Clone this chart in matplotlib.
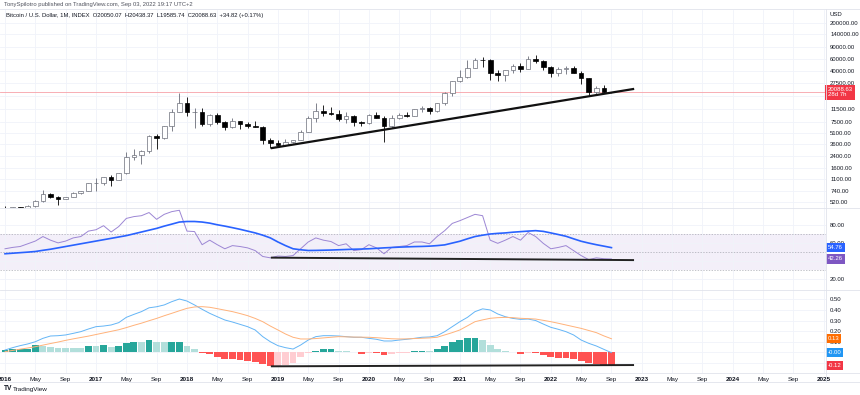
import numpy as np
import matplotlib
matplotlib.use('Agg')
import matplotlib.pyplot as plt
from matplotlib.lines import Line2D

plt.rcParams['font.family'] = ['Liberation Sans', 'DejaVu Sans']

# monthly BTC candles, Jan 2016 .. Sep 2022
opens = [430, 370, 437, 416, 448, 531, 673, 624, 575, 609, 700, 745,
         965, 970, 1190, 1080, 1350, 2300, 2480, 2875, 4700, 4340, 6450, 10200,
         13900, 10200, 10300, 6900, 9240, 7490, 6390, 7730, 7020, 6610, 6300, 4020,
         3740, 3450, 3820, 4100, 5320, 8560, 10800, 10090, 9600, 8300, 9150, 7550,
         7200, 9350, 8540, 6420, 8630, 9450, 9140, 11350, 11650, 10780, 13800, 19700,
         29000, 33100, 45200, 58800, 57700, 37300, 35000, 41500, 47100, 43800, 61300, 57000,
         46300, 38500, 43200, 45500, 37700, 31800, 19900, 23300, 20050.07]
highs = [460, 440, 440, 467, 550, 780, 705, 627, 615, 720, 753, 980,
         1155, 1200, 1290, 1350, 2760, 2980, 2920, 4750, 4980, 6470, 11500, 19800,
         17200, 11800, 11700, 9750, 9990, 7750, 8480, 7770, 7400, 7680, 6550, 4390,
         4110, 4200, 4100, 5620, 9100, 13900, 13200, 12330, 10930, 10370, 9510, 7750,
         9580, 10500, 9190, 9460, 10070, 10380, 11440, 12470, 12080, 14100, 19900, 29300,
         41900, 58300, 61800, 64900, 59500, 41300, 42400, 50500, 52900, 67000, 69000, 59100,
         47900, 45800, 48200, 47400, 40000, 31900, 24600, 25200, 20438.37]
lows = [350, 365, 400, 413, 435, 525, 600, 470, 570, 605, 685, 740,
        750, 930, 890, 1075, 1330, 2120, 1840, 2670, 2980, 4160, 5500, 10400,
        9050, 6000, 6600, 6450, 7050, 5780, 6070, 5880, 6140, 6200, 3560, 3130,
        3400, 3380, 3670, 4050, 5330, 7480, 9080, 9330, 7700, 7300, 6530, 6430,
        6850, 8450, 3850, 6150, 8120, 8900, 8970, 10520, 9850, 10400, 13200, 17600,
        28100, 32300, 45000, 47000, 30000, 28800, 29300, 37400, 39600, 43300, 53300, 42000,
        32900, 34300, 37200, 37700, 26700, 17600, 18800, 19600, 19585.74]
closes = [370, 437, 416, 448, 531, 673, 624, 575, 609, 700, 745, 965,
          970, 1190, 1080, 1350, 2300, 2480, 2875, 4700, 4340, 6450, 10200, 13900,
          10200, 10300, 6900, 9240, 7490, 6390, 7730, 7020, 6610, 6300, 4020, 3740,
          3450, 3820, 4100, 5320, 8560, 10800, 10090, 9600, 8300, 9150, 7550, 7200,
          9350, 8540, 6420, 8630, 9450, 9140, 11350, 11650, 10780, 13800, 19700, 29000,
          33100, 45200, 58800, 57700, 37300, 35000, 41500, 47100, 43800, 61300, 57000, 46300,
          38500, 43200, 45500, 37700, 31800, 19900, 23300, 20050, 20088.63]

rsi = [53.5, 55, 56, 59, 62, 67, 63, 60, 62, 65.5, 67, 73,
       74.5, 79, 72, 78, 87, 89, 90, 93.5, 86, 91.5, 94.5, 96,
       73, 72.5, 58, 63, 58, 53.5, 57, 56, 54.5, 51.5, 45, 43.5,
       45.5, 45, 46, 53.5, 61, 65.5, 63, 61.5, 57, 59, 51.5, 52.5,
       58, 54.5, 48, 55, 56, 57, 61, 61, 59, 67, 73.5, 81.5,
       84.5, 88, 91.5, 90, 63, 59.5, 63, 67, 63, 71.5, 67, 59.5,
       53.5, 55, 57, 51.5, 46, 41.5, 43.5, 42.5, 42.26]
rsi_ma = [48.0, 48.6, 49.2, 49.8, 50.5, 51.8, 53.0, 54.5, 56.0, 57.5, 59.0, 60.5,
          62.0, 63.5, 65.0, 66.5, 68.0, 70.0, 72.0, 74.0, 76.0, 78.5, 80.7, 83.0,
          83.6, 83.6, 83.0, 81.8, 80.0, 78.5, 76.8, 75.0, 73.0, 71.0, 68.5, 65.5,
          61.0, 57.0, 53.5, 52.4, 51.6, 51.7, 51.9, 52.1, 52.4, 52.7, 53.0, 53.2,
          53.5, 54.0, 54.5, 54.9, 55.3, 55.6, 55.9, 56.1, 56.4, 57.0, 57.8, 59.8,
          61.8, 64.5, 67.0, 68.5, 69.8, 70.5, 71.0, 71.8, 72.4, 73.0, 73.5, 72.7,
          71.0, 69.2, 67.3, 64.5, 61.8, 59.8, 58.0, 56.4, 54.76]

macd = [0.022, 0.044, 0.063, 0.079, 0.100, 0.132, 0.154, 0.157, 0.164, 0.179, 0.195, 0.220,
        0.242, 0.248, 0.258, 0.280, 0.330, 0.358, 0.384, 0.420, 0.430, 0.447, 0.478, 0.503,
        0.484, 0.447, 0.406, 0.368, 0.336, 0.305, 0.286, 0.264, 0.242, 0.211, 0.148, 0.100,
        0.063, 0.044, 0.031, 0.069, 0.116, 0.148, 0.157, 0.157, 0.154, 0.148, 0.142, 0.142,
        0.132, 0.123, 0.107, 0.107, 0.116, 0.123, 0.132, 0.142, 0.145, 0.157, 0.195, 0.242,
        0.289, 0.330, 0.384, 0.410, 0.400, 0.362, 0.336, 0.320, 0.311, 0.314, 0.300, 0.267,
        0.236, 0.217, 0.195, 0.164, 0.116, 0.085, 0.060, 0.028, -0.003]
signal = [0.006, 0.018, 0.030, 0.041, 0.053, 0.068, 0.083, 0.097, 0.113, 0.127, 0.140, 0.153,
          0.168, 0.183, 0.198, 0.213, 0.233, 0.255, 0.275, 0.298, 0.320, 0.345, 0.368, 0.392,
          0.415, 0.428, 0.431, 0.425, 0.412, 0.398, 0.384, 0.366, 0.346, 0.320, 0.289, 0.248,
          0.211, 0.173, 0.142, 0.126, 0.126, 0.130, 0.136, 0.142, 0.148, 0.146, 0.144, 0.143,
          0.142, 0.138, 0.133, 0.128, 0.126, 0.127, 0.130, 0.133, 0.136, 0.142, 0.164, 0.186,
          0.211, 0.250, 0.289, 0.306, 0.321, 0.327, 0.330, 0.327, 0.321, 0.318, 0.314, 0.302,
          0.289, 0.274, 0.258, 0.242, 0.226, 0.206, 0.186, 0.155, 0.128]
hist = [0.022, 0.028, 0.030, 0.035, 0.065, 0.060, 0.050, 0.045, 0.045, 0.044, 0.042, 0.060,
        0.058, 0.068, 0.050, 0.060, 0.092, 0.095, 0.093, 0.115, 0.095, 0.094, 0.100, 0.102,
        0.062, 0.030, -0.004, -0.017, -0.047, -0.063, -0.066, -0.072, -0.085, -0.088, -0.110, -0.126,
        -0.125, -0.124, -0.104, -0.040, -0.010, 0.016, 0.031, 0.033, 0.015, 0.008, 0.001, -0.015,
        -0.005, -0.010, -0.025, -0.015, -0.010, -0.005, 0.008, 0.012, 0.010, 0.028, 0.060, 0.100,
        0.116, 0.132, 0.138, 0.116, 0.069, 0.028, 0.013, 0.006, -0.016, -0.003, -0.010, -0.025,
        -0.041, -0.050, -0.057, -0.063, -0.079, -0.104, -0.110, -0.118, -0.122]

# hand drawn trend lines (month index, value)
trend_x = [35.2, 82.85]
price_trend = [3125, 22230]
rsi_trend = [43.7, 41.0]
macd_trend = [-0.132, -0.12]

price_ticks = [520, 740, 1100, 1600, 2400, 3600, 5100, 7500, 11500, 17500,
               27500, 40000, 60000, 90000, 140000, 200000]
rsi_ticks = [20, 40, 60, 80]
macd_ticks = [-0.1, 0.0, 0.1, 0.2, 0.3, 0.4, 0.5]
tick_months = list(range(0, 109, 4))
month_names = {0: None, 4: 'May', 8: 'Sep'}

last_price = 20088.63
n = len(closes)
xs = np.arange(n)

W, H = 860, 395
fig = plt.figure(figsize=(W / 100, H / 100), dpi=100)
fig.patch.set_facecolor('white')

def box(top, bottom):
    return [0, 1 - bottom / H, 826 / W, (bottom - top) / H]

ax1 = fig.add_axes(box(10, 208))
ax2 = fig.add_axes(box(208, 290), sharex=ax1)
ax3 = fig.add_axes(box(290, 373), sharex=ax1)

txt = '#131722'
grid_c = '#f0f3fa'
fs = 4.3

for ax in (ax1, ax2, ax3):
    for s in ax.spines.values():
        s.set_visible(False)
    ax.yaxis.tick_right()
    ax.tick_params(axis='y', length=0, labelsize=fs, labelcolor=txt, pad=3)
    ax.tick_params(axis='x', length=0)
    ax.set_xticks(tick_months)
    ax.grid(True, color=grid_c, lw=0.6)
    ax.set_axisbelow(True)
ax1.set_xlim(-0.66, 108.3)

# ---- price panel
ax1.set_yscale('log')
ax1.set_ylim(426, 308000)
ax1.set_yticks(price_ticks)
ax1.set_yticklabels(['%.2f' % v for v in price_ticks])
ax1.minorticks_off()
ax1.tick_params(axis='x', labelbottom=False)
ax1.axhline(last_price, color='#f7a1a8', lw=0.6, zorder=1)

for i in range(n):
    o, hi, lo, c = opens[i], highs[i], lows[i], closes[i]
    up = c >= o
    col = '#6a6d78' if up else '#000000'
    ax1.vlines(xs[i], lo, hi, color=col, lw=0.6, zorder=2)
    b0, b1 = min(o, c), max(o, c)
    if b1 / b0 < 1.012:
        b1 = b0 * 1.012
    ax1.bar(xs[i], b1 - b0, bottom=b0, width=0.62,
            color='white' if up else 'black', edgecolor=col, lw=0.5, zorder=3)

ax1.plot(trend_x, price_trend, color='#111111', lw=1.6, zorder=4)

ax1.text(1.004, 1 - 4 / 198, 'USD', transform=ax1.transAxes, fontsize=fs,
         color=txt, ha='left', va='center')
ax1.text(1.002, last_price, '20088.63\n28d 7h', transform=ax1.get_yaxis_transform(),
         fontsize=fs, color='white', ha='left', va='center', linespacing=1.1,
         bbox=dict(boxstyle='square,pad=0.4', fc='#f23645', ec='none'), zorder=10)

# ---- RSI panel
ax2.set_ylim(8, 98.5)
ax2.set_yticks(rsi_ticks)
ax2.set_yticklabels(['%.2f' % v for v in rsi_ticks])
ax2.tick_params(axis='x', labelbottom=False)
ax2.axhspan(30, 70, color='#7e57c2', alpha=0.09, lw=0, zorder=0)
for lvl in (30, 50, 70):
    ax2.axhline(lvl, color='#9598a1', lw=0.5, ls=(0, (2, 2)), alpha=0.8, zorder=1)
ax2.plot(xs, rsi, color='#9c86d4', lw=0.7, zorder=3)
ax2.plot(xs, rsi_ma, color='#2962ff', lw=1.2, zorder=3)
ax2.plot(trend_x, rsi_trend, color='#222222', lw=1.4, zorder=4)
for val, col in ((rsi_ma[-1], '#2962ff'), (rsi[-1], '#7e57c2')):
    ax2.text(1.002, val, '%.2f' % val, transform=ax2.get_yaxis_transform(),
             fontsize=fs, color='white', ha='left', va='center',
             bbox=dict(boxstyle='square,pad=0.35', fc=col, ec='none'), zorder=10)

# ---- MACD panel
ax3.set_ylim(-0.195, 0.588)
ax3.set_yticks(macd_ticks)
ax3.set_yticklabels(['%.2f' % v for v in macd_ticks])
hist_cols = []
for i, h in enumerate(hist):
    prev = hist[i - 1] if i > 0 else 0
    if h >= 0:
        hist_cols.append('#26a69a' if h > prev else '#b2dfdb')
    else:
        hist_cols.append('#ff5252' if h < prev else '#ffcdd2')
ax3.bar(xs, hist, width=0.9, color=hist_cols, lw=0, zorder=2)
ax3.plot(xs, macd, color='#64b5f6', lw=0.7, zorder=3)
ax3.plot(xs, signal, color='#ffb27a', lw=0.7, zorder=3)
ax3.plot(trend_x, macd_trend, color='#222222', lw=1.4, zorder=4)
for val, col in ((signal[-1], '#ff6d00'), (macd[-1], '#2196f3'), (hist[-1], '#f23645')):
    ax3.text(1.002, val, '%.2f' % val if val != macd[-1] else '-0.00',
             transform=ax3.get_yaxis_transform(), fontsize=fs, color='white',
             ha='left', va='center',
             bbox=dict(boxstyle='square,pad=0.35', fc=col, ec='none'), zorder=10)

labels = []
for m in tick_months:
    nm = month_names[m % 12]
    labels.append(str(2016 + m // 12) if nm is None else nm)
ax3.set_xticklabels(labels)
ax3.tick_params(axis='x', labelsize=4.6, labelcolor=txt, pad=3)
for lab, m in zip(ax3.get_xticklabels(), tick_months):
    if m % 12 == 0:
        lab.set_fontweight('bold')

# panel separators and frame
for yy in (9, 208, 290, 373, 382):
    fig.add_artist(Line2D([0, 1], [1 - yy / H] * 2, color='#e0e3eb', lw=0.6))
fig.add_artist(Line2D([826 / W] * 2, [1 - 382 / H, 1 - 9 / H], color='#e0e3eb', lw=0.6))

fig.text(4 / W, 1 - 4.5 / H, 'TonySpilotro published on TradingView.com, Sep 03, 2022 19:17 UTC+2',
         fontsize=4.2, color='#50535e', va='center')
fig.text(6 / W, 1 - 15 / H,
         'Bitcoin / U.S. Dollar, 1M, INDEX  O20050.07  H20438.37  L19585.74  C20088.63  +34.82 (+0.17%)',
         fontsize=4.2, color=txt, va='center')
fig.text(4 / W, 1 - 389 / H, 'TV', fontsize=4.8, fontweight='bold', color=txt, va='center')
fig.text(13 / W, 1 - 389 / H, 'TradingView', fontsize=4.6, color=txt, va='center')

fig.savefig('out.png', dpi=100)
